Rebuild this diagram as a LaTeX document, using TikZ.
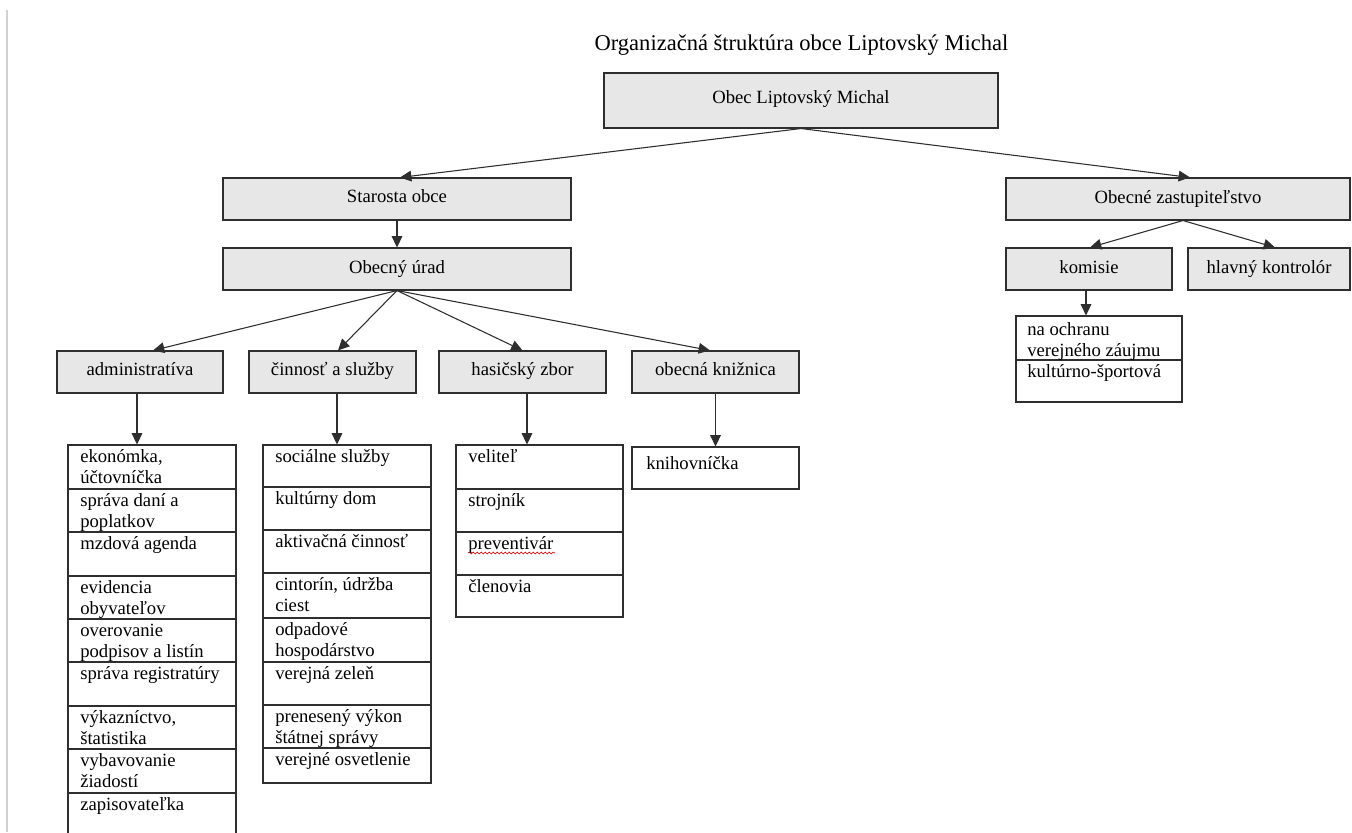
\documentclass[tikz,border=0pt]{standalone}
\usepackage{fontspec}
\setmainfont{Liberation Serif}
\usetikzlibrary{arrows.meta,fit,calc,decorations.pathmorphing}
\definecolor{boxgray}{HTML}{E7E7E7}
\definecolor{linegray}{HTML}{2E2E2E}
\begin{document}
\begin{tikzpicture}[x=0.75pt,y=-0.75pt,
  gbox/.style={draw=linegray, fill=boxgray, line width=0.8pt, inner sep=0pt},
  wbox/.style={draw=linegray, fill=white, line width=0.8pt, inner sep=0pt},
  lbl/.style={inner sep=0pt, anchor=base, font=\fontsize{14}{16}\selectfont},
  cell/.style={inner sep=0pt, anchor=base west, font=\fontsize{14}{16}\selectfont},
  arr/.style={draw=linegray, line width=0.8pt, -{Triangle[length=8.5pt,width=8pt]}},
  divline/.style={draw=linegray, line width=0.8pt}]
\useasboundingbox (0,0) rectangle (1352,832);
\fill[white] (0,0) rectangle (1352,832);
% page edge
\draw[black!18, line width=0.8pt] (7,10) -- (7,832);

% title
\node[inner sep=0pt, anchor=base, font=\fontsize{16.9}{19}\selectfont] (title) at (801.5,50) {Organizačná štruktúra obce Liptovský Michal};

% top
\node[gbox, fit={(604,73) (998,128)}] (top) {};
\node[lbl] (topT) at (801,103) {Obec Liptovský Michal};

% second level
\node[gbox, fit={(223,178) (571,220)}] (starosta) {};
\node[lbl] (starostaT) at (397,202) {Starosta obce};
\node[gbox, fit={(223,248) (571,290)}] (urad) {};
\node[lbl] (uradT) at (397,273) {Obecný úrad};

\node[gbox, fit={(1006,178) (1350,220)}] (zast) {};
\node[lbl] (zastT) at (1178,203) {Obecné zastupiteľstvo};
\node[gbox, fit={(1006,248) (1172,290)}] (komisie) {};
\node[lbl] (komisieT) at (1089,273) {komisie};
\node[gbox, fit={(1188,248) (1350,290)}] (hlavny) {};
\node[lbl] (hlavnyT) at (1269,273) {hlavný kontrolór};

% third level
\node[gbox, fit={(57,351) (223,393)}] (admin) {};
\node[lbl] (adminT) at (140,375) {administratíva};
\node[gbox, fit={(249,351) (416,393)}] (cinn) {};
\node[lbl] (cinnT) at (332.5,375) {činnosť a služby};
\node[gbox, fit={(439,351) (606,393)}] (hasic) {};
\node[lbl] (hasicT) at (522.5,375) {hasičský zbor};
\node[gbox, fit={(632,351) (799,393)}] (kniz) {};
\node[lbl] (knizT) at (715.5,375) {obecná knižnica};

% sub boxes
\node[wbox, fit={(68,445) (236,850)}] (adminsub) {};
\foreach \yy in {489,532,576,619,662,706,749,793} \draw[divline] (68,\yy) -- (236,\yy);
\node[wbox, fit={(263,445) (431,783)}] (cinnsub) {};
\foreach \yy in {487,530,573,618,662,705,748} \draw[divline] (263,\yy) -- (431,\yy);
\node[wbox, fit={(456,445) (623,617)}] (hasicsub) {};
\foreach \yy in {489,532,575} \draw[divline] (456,\yy) -- (623,\yy);
\node[wbox, fit={(632,447) (799,489)}] (knizsub) {};
\node[wbox, fit={(1016,316) (1182,402)}] (komsub) {};
\draw[divline] (1016,360) -- (1182,360);

% connectors
\draw[arr] (top.south) -- ($(starosta.north)+(3,0)$);
\draw[arr] (top.south) -- ($(zast.north)+(12,0)$);
\draw[arr] (starosta.south) -- (urad.north);
\draw[arr] (urad.south) -- ($(admin.north)+(13,0)$);
\draw[arr] (urad.south) -- ($(cinn.north)+(5.5,0)$);
\draw[arr] (urad.south) -- (hasic.north);
\draw[arr] (urad.south) -- ($(kniz.north)+(-5.5,0)$);
\coordinate (zs) at ($(zast.south)+(5,0)$);
\draw[arr] (zs) -- ($(komisie.north)+(1,0)$);
\draw[arr] (zs) -- ($(hlavny.north)+(6,0)$);
\coordinate (k1) at ($(komisie.south)+(-3,0)$);
\draw[arr] (k1) -- (k1 |- komsub.north);
\coordinate (a1) at ($(admin.south)+(-3,0)$);
\draw[arr] (a1) -- (a1 |- adminsub.north);
\coordinate (c1) at ($(cinn.south)+(4.5,0)$);
\draw[arr] (c1) -- (c1 |- cinnsub.north);
\coordinate (h1) at ($(hasic.south)+(4.5,0)$);
\draw[arr] (h1) -- (h1 |- hasicsub.north);
\draw[arr] (kniz.south) -- (knizsub.north);

% admin texts
\node[cell] (a1a) at (80,462) {ekonómka,};
\node[cell] (a1b) at (80,483) {účtovníčka};
\node[cell] (a2a) at (80,506) {správa daní a};
\node[cell] (a2b) at (80,527) {poplatkov};
\node[cell] (a3a) at (80,549) {mzdová agenda};
\node[cell] (a4a) at (80,593) {evidencia};
\node[cell] (a4b) at (80,614) {obyvateľov};
\node[cell] (a5a) at (80,636) {overovanie};
\node[cell] (a5b) at (80,657) {podpisov a listín};
\node[cell] (a6a) at (80,679) {správa registratúry};
\node[cell] (a7a) at (80,723) {výkazníctvo,};
\node[cell] (a7b) at (80,744) {štatistika};
\node[cell] (a8a) at (80,766) {vybavovanie};
\node[cell] (a8b) at (80,787) {žiadostí};
\node[cell] (a9a) at (80,810) {zapisovateľka};

% cinnost texts
\node[cell] (c1a) at (275,462) {sociálne služby};
\node[cell] (c2a) at (275,504) {kultúrny dom};
\node[cell] (c3a) at (275,547) {aktivačná činnosť};
\node[cell] (c4a) at (275,590) {cintorín, údržba};
\node[cell] (c4b) at (275,611) {ciest};
\node[cell] (c5a) at (275,635) {odpadové};
\node[cell] (c5b) at (275,656) {hospodárstvo};
\node[cell] (c6a) at (275,679) {verejná zeleň};
\node[cell] (c7a) at (275,722) {prenesený výkon};
\node[cell] (c7b) at (275,743) {štátnej správy};
\node[cell] (c8a) at (275,765) {verejné osvetlenie};

% hasic texts
\node[cell] (h1a) at (468,462) {veliteľ};
\node[cell] (h2a) at (468,506) {strojník};
\node[cell] (h3a) at (468,549) {preventivár};
\draw[red!85!black, line width=0.5pt, decorate, decoration={snake, amplitude=0.7pt, segment length=3pt}] (468,553) -- (555,553);
\node[cell] (h4a) at (468,592) {členovia};

% kniz text
\node[cell] (k1a) at (646,469) {knihovníčka};

% komisie texts
\node[cell] (m1a) at (1027,335) {na ochranu};
\node[cell] (m1b) at (1027,356) {verejného záujmu};
\node[cell] (m2a) at (1027,377) {kultúrno-športová};
\end{tikzpicture}
\end{document}
